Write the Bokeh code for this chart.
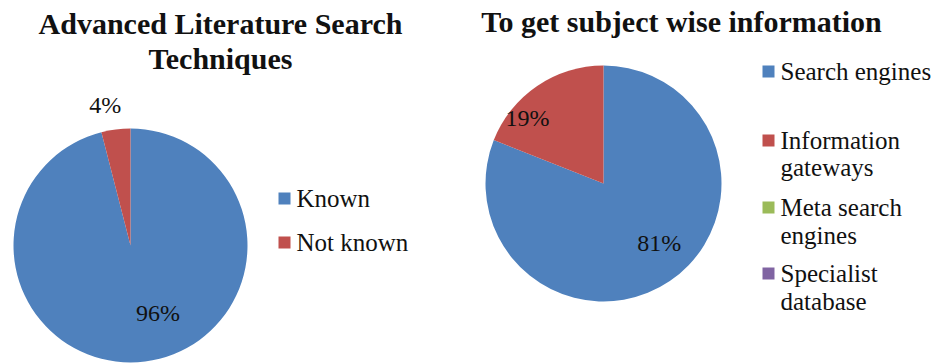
import math
from bokeh.plotting import figure
from bokeh.models import Range1d, ColumnDataSource
from bokeh.core.properties import value
from bokeh.embed import file_html
from bokeh.resources import INLINE

# ---- data ----
left_title = ["Advanced Literature Search", "Techniques"]
left_categories = ["Known", "Not known"]
left_values = [96, 4]
left_labels = ["96%", "4%"]

right_title = ["To get subject wise information"]
right_categories = ["Search engines", "Information gateways", "Meta search engines", "Specialist database"]
right_values = [81, 19, 0, 0]
right_labels = ["81%", "19%", "", ""]
right_legend_lines = [["Search engines"], ["Information", "gateways"], ["Meta search", "engines"], ["Specialist", "database"]]

colors = ["#4F81BD", "#C0504D", "#9BBB59", "#8064A2"]

W, H = 943, 364
FONT = "Liberation Serif"

p = figure(width=W, height=H, output_backend="svg", toolbar_location=None,
           x_range=Range1d(0, W), y_range=Range1d(0, H), min_border=0)
p.axis.visible = False
p.grid.visible = False
p.outline_line_color = None


def Y(py):  # page pixel y -> data y
    return H - py


def X(px):
    return px


def pie(cx, cy, r, values, cols, labels, lab_k, lab_nudge):
    total = float(sum(values))
    cum = 0.0
    starts, ends, wc, lx, ly, lt = [], [], [], [], [], []
    for i, v in enumerate(values):
        f0 = cum / total
        f1 = (cum + v) / total
        cum += v
        if v <= 0:
            continue
        starts.append(math.pi / 2 - f0 * 2 * math.pi)
        ends.append(math.pi / 2 - f1 * 2 * math.pi)
        wc.append(cols[i])
        mid = (f0 + f1) / 2 * 2 * math.pi + math.radians(lab_nudge[i])
        lx.append(cx + r * lab_k[i] * math.sin(mid))
        ly.append(cy + r * lab_k[i] * math.cos(mid))
        lt.append(labels[i])
    src = ColumnDataSource(dict(start=starts, end=ends, color=wc))
    p.wedge(x=cx, y=cy, radius=r, start_angle="start", end_angle="end",
            direction="clock", fill_color="color", line_color=None, source=src)
    p.text(x=lx, y=ly, text=lt, text_font=value(FONT), text_font_size="24px",
           text_align="center", text_baseline="middle", text_color="#111111")


pie(X(130), Y(245), 117, left_values, colors, left_labels, [0.62, 1.22], [-15, -3])
pie(X(603), Y(183), 118, right_values, colors, right_labels, [0.69, 0.85, 0, 0], [-9, -15, 0, 0])

# titles
p.text(x=[X(220), X(220)], y=[Y(23), Y(58)], text=left_title, text_font=value(FONT),
       text_font_style="bold", text_font_size="30px", text_align="center",
       text_baseline="middle", text_color="#111111")
p.text(x=[X(681)], y=[Y(21)], text=right_title, text_font=value(FONT),
       text_font_style="bold", text_font_size="30px", text_align="center",
       text_baseline="middle", text_color="#111111")

# left legend
ly_left = [Y(198), Y(242)]
p.rect(x=[X(284)] * 2, y=ly_left, width=12, height=12, fill_color=colors[:2], line_color=None)
p.text(x=[X(296)] * 2, y=ly_left, text=left_categories, text_font=value(FONT),
       text_font_size="25px", text_align="left", text_baseline="middle", text_color="#111111")

# right legend
sq_y = [Y(71), Y(140), Y(207), Y(273)]
p.rect(x=[X(768)] * 4, y=sq_y, width=12, height=12, fill_color=colors, line_color=None)
line_ys = [[Y(71)], [Y(140), Y(167)], [Y(207), Y(235)], [Y(273), Y(301)]]
tx, ty, tt = [], [], []
for lines, ys in zip(right_legend_lines, line_ys):
    for t, yy in zip(lines, ys):
        tx.append(X(780)); ty.append(yy); tt.append(t)
p.text(x=tx, y=ty, text=tt, text_font=value(FONT), text_font_size="25px",
       text_align="left", text_baseline="middle", text_color="#111111")

open("out.html", "w").write(file_html(p, INLINE))
